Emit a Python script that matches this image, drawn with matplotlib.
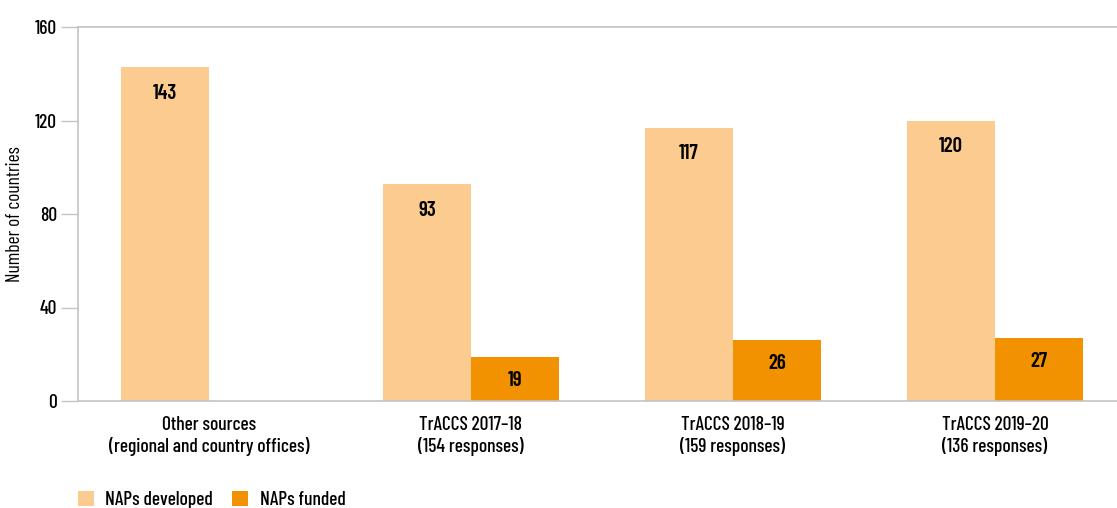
import numpy as np
import matplotlib.pyplot as plt

categories = ["Other sources\n(regional and country offices)",
              "TrACCS 2017\u201318\n(154 responses)",
              "TrACCS 2018\u201319\n(159 responses)",
              "TrACCS 2019\u201320\n(136 responses)"]
developed = [143, 93, 117, 120]
funded = [None, 19, 26, 27]
yticks = [0, 40, 80, 120, 160]

plt.rcParams['font.family'] = ['Barlow Condensed', 'DejaVu Sans']
plt.rcParams['font.stretch'] = 'condensed'
plt.rcParams['font.weight'] = 'medium'

light = '#FBCB8F'
dark = '#F29200'
grey = '#c3c3c3'
fs = 14

fig = plt.figure(figsize=(11.17, 5.08), dpi=100)
ax = fig.add_axes([78/1117, 107/508, 1 - 78/1117, 374/508])

x = np.arange(len(categories))
w = 0.336
for i in x:
    ax.bar(i - w/2, developed[i], w, color=light, label='NAPs developed' if i == 0 else None)
    ax.annotate(str(developed[i]), (i - w/2, developed[i]), xytext=(0, -19), textcoords='offset points',
                ha='center', va='center', fontsize=fs + 1, fontweight='semibold')
    if funded[i] is not None:
        ax.bar(i + w/2, funded[i], w, color=dark, label='NAPs funded' if i == 1 else None)
        ax.annotate(str(funded[i]), (i + w/2, funded[i]), xytext=(0, -17), textcoords='offset points',
                    ha='center', va='center', fontsize=fs + 1, fontweight='semibold')

ax.set_xlim(-0.5, 3.466)
ax.set_ylim(0, 160)
ax.set_yticks(yticks)
ax.set_xticks(x)
ax.set_xticklabels(categories, fontsize=fs, linespacing=1.15)
ax.tick_params(axis='x', length=0, pad=11)
ax.tick_params(axis='y', length=12, color=grey, width=1, labelsize=fs, pad=3)
ax.set_ylabel('Number of countries', fontsize=fs, labelpad=8)

ax.spines['right'].set_visible(False)
for s in ['left', 'bottom', 'top']:
    ax.spines[s].set_color(grey)
    ax.spines[s].set_linewidth(1.2)

ax.legend(loc='upper left', bbox_to_anchor=(0, -0.24), ncol=2, frameon=False, fontsize=fs,
          handlelength=0.8, handleheight=0.8, handletextpad=0.6, columnspacing=1.0, borderaxespad=0,
          borderpad=0)

fig.savefig('out.png', dpi=100)
